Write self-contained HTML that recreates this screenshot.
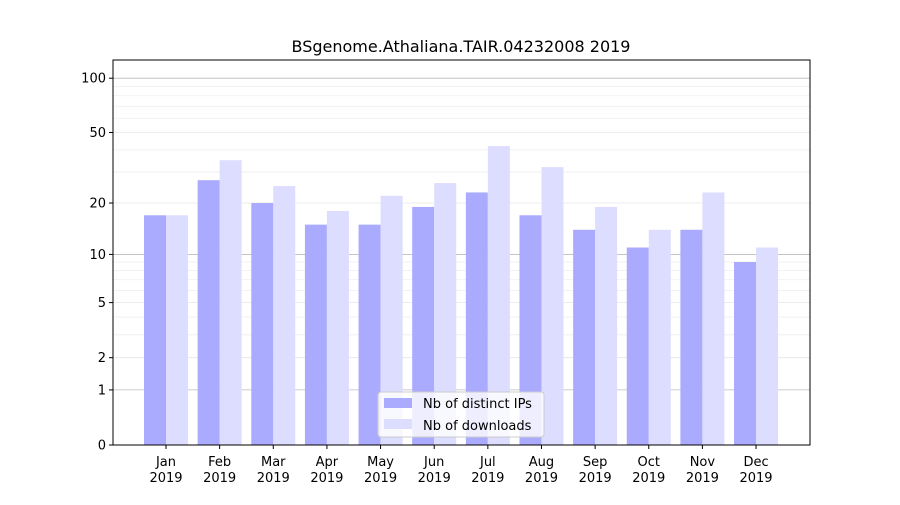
<!DOCTYPE html>
<html><head><meta charset="utf-8"><style>
body{margin:0;background:#fff;font-family:"Liberation Sans","DejaVu Sans",sans-serif}
</style></head><body>
<svg id="chart" width="900" height="500" xmlns="http://www.w3.org/2000/svg" font-family="DejaVu Sans, Liberation Sans, sans-serif">
<rect width="900" height="500" fill="#fff"/>
<text x="461" y="52" font-size="16" text-anchor="middle">BSgenome.Athaliana.TAIR.04232008 2019</text>
<g id="grid"></g><g id="bars"></g><g id="axes"></g>
</svg>
<script>
const months=["Jan","Feb","Mar","Apr","May","Jun","Jul","Aug","Sep","Oct","Nov","Dec"];
const ips=[17,27,20,15,15,19,23,17,14,11,14,9];
const downloads=[17,35,25,18,22,26,42,32,19,14,23,11];
const majorTicks=[0,1,2,5,10,20,50,100];
const minorTicks=[3,4,6,7,8,9,30,40,60,70,80,90];
const NS="http://www.w3.org/2000/svg";
const L=113,R=810,T=60,B=445;
function y(v){return B-183*Math.log10(1+v);}
function x(i){return 166+i*53.64;}
function mk(tag,attrs,parent,txt){const e=document.createElementNS(NS,tag);for(const k in attrs)e.setAttribute(k,attrs[k]);if(txt!==undefined)e.textContent=txt;document.getElementById(parent).appendChild(e);return e;}
minorTicks.forEach(v=>{const e=mk('line',{x1:L,x2:R,y1:y(v),y2:y(v),stroke:'#eee','stroke-width':0.8},'grid');

});
majorTicks.forEach(v=>{const dark=(v===1||v===10||v===100);
const g=mk('line',{x1:L,x2:R,y1:y(v),y2:y(v),stroke:dark?'#bbb':'#e6e6e6','stroke-width':0.8},'grid');


mk('line',{x1:L-4,x2:L,y1:y(v),y2:y(v),stroke:'#000'},'axes');
const t=mk('text',{x:L-7,y:y(v)+4.5,'font-size':13,'text-anchor':'end'},'axes',String(v));

});
months.forEach((m,i)=>{
const b1=mk('rect',{x:x(i)-22,y:y(ips[i]),width:22,height:B-y(ips[i]),fill:'#aaaaff'},'bars');


const b2=mk('rect',{x:x(i),y:y(downloads[i]),width:22,height:B-y(downloads[i]),fill:'#ddddff'},'bars');


mk('line',{x1:x(i),x2:x(i),y1:B,y2:B+4,stroke:'#000'},'axes');
const t=mk('text',{x:x(i),y:B+21,'font-size':13,'text-anchor':'middle'},'axes',m);


const t2=mk('text',{x:x(i),y:B+37,'font-size':13,'text-anchor':'middle'},'axes','2019');

});
const f=mk('rect',{x:L,y:T,width:R-L,height:B-T,fill:'none',stroke:'#000','stroke-width':1},'axes');


const lg=mk('rect',{x:378,y:392,width:166,height:45,fill:'#fff','fill-opacity':0.8,stroke:'#ccc',rx:3},'axes');


mk('rect',{x:384,y:398,width:28,height:10,fill:'#aaaaff'},'axes');
const l1=mk('text',{x:423,y:408,'font-size':13},'axes','Nb of distinct IPs');


mk('rect',{x:384,y:419,width:28,height:10,fill:'#ddddff'},'axes');
const l2=mk('text',{x:423,y:430,'font-size':13},'axes','Nb of downloads');


</script>
</body></html>
